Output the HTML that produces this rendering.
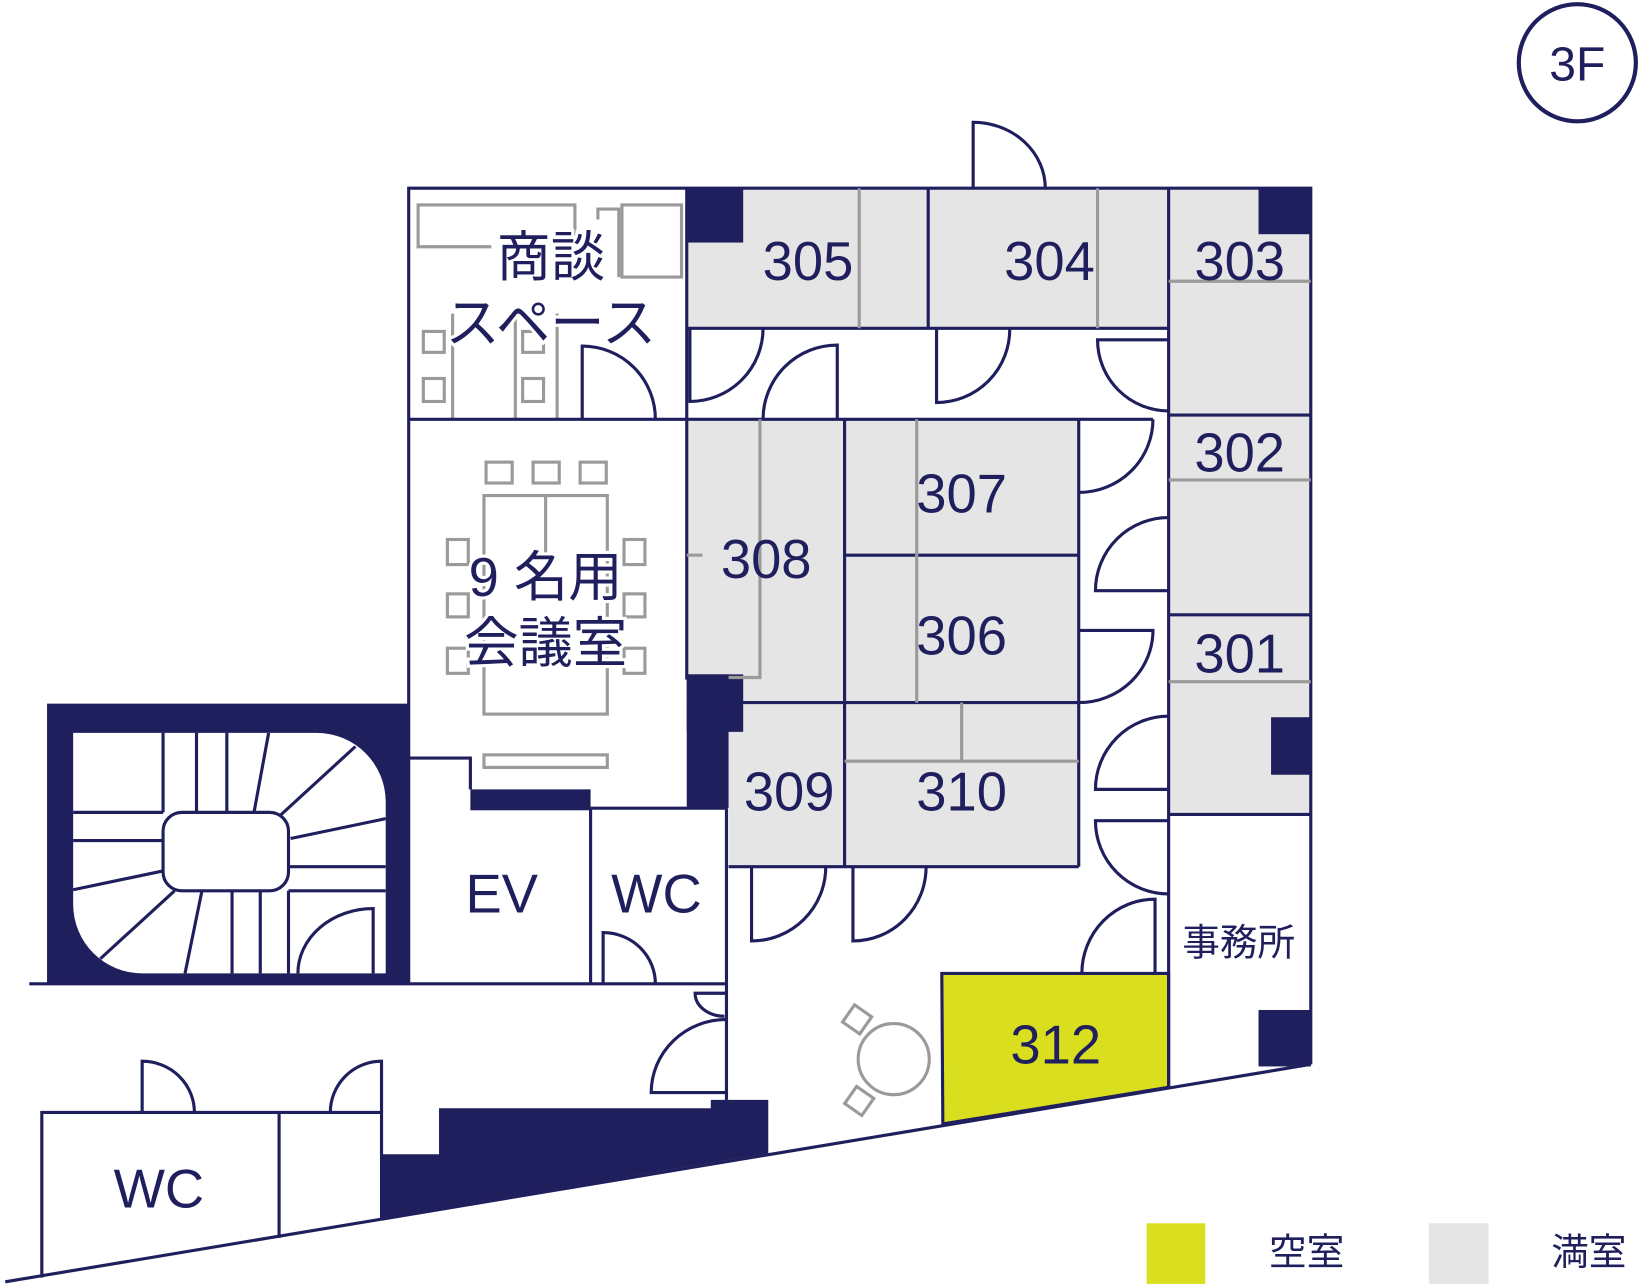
<!DOCTYPE html>
<html><head><meta charset="utf-8"><style>
html,body{margin:0;padding:0;background:#fff}
svg{display:block}
text{font-family:"Liberation Sans","Noto Sans CJK JP",sans-serif;fill:#201f5e;text-anchor:middle}
</style></head><body>
<svg width="1639" height="1286" viewBox="0 0 1568 1230" preserveAspectRatio="none" xmlns="http://www.w3.org/2000/svg">
<g fill="#e5e5e5">
<rect x="657" y="180" width="461" height="134"/>
<rect x="1118" y="180" width="136" height="599"/>
<rect x="657" y="401" width="375" height="271"/>
<rect x="697" y="672" width="335" height="157"/>
</g>
<polygon points="901,931 1118,931 1118,1040 902,1075" fill="#d9df1f" stroke="#201f5e" stroke-width="3"/>
<g fill="#201f5e">
<rect x="657" y="180" width="54" height="52"/>
<rect x="1204" y="180" width="50" height="44"/>
<rect x="1216" y="686" width="38" height="55"/>
<rect x="1204" y="966" width="50" height="54"/>
<rect x="657" y="645" width="40" height="128"/>
<rect x="657" y="645" width="54" height="55"/>
<rect x="450" y="755" width="115" height="20"/>
<polygon points="365,1104 420,1104 420,1060 680,1060 680,1052 735,1052 735,1103 365,1165"/>
<rect x="45" y="673" width="347" height="268"/>
</g>
<path d="M70,701 H303 A66,66 0 0 1 369,767 V931 H136 A66,66 0 0 1 70,865 Z" fill="#fff"/>
<g stroke="#201f5e" stroke-width="3" fill="none">
<rect x="156" y="777" width="120" height="75" rx="18" fill="#fff"/>
<line x1="156" y1="701" x2="156" y2="777"/><line x1="188" y1="701" x2="188" y2="777"/><line x1="217" y1="701" x2="217" y2="777"/>
<line x1="257" y1="701" x2="243" y2="777"/><line x1="340" y1="714" x2="268" y2="780"/><line x1="369" y1="783" x2="278" y2="802"/>
<line x1="276" y1="829" x2="369" y2="829"/><line x1="276" y1="852" x2="369" y2="852"/>
<line x1="70" y1="777" x2="156" y2="777"/><line x1="70" y1="804" x2="156" y2="804"/>
<line x1="70" y1="851" x2="156" y2="833"/><line x1="96" y1="917" x2="167" y2="852"/><line x1="177" y1="931" x2="193" y2="853"/>
<line x1="222" y1="852" x2="222" y2="931"/><line x1="249" y1="852" x2="249" y2="931"/><line x1="276" y1="852" x2="276" y2="931"/>
<path d="M357,931 V869 A72,62 0 0 0 285,931"/>
</g>
<g stroke="#9a9a9a" stroke-width="3" fill="none">
<path d="M550,236 V196 H400 V236 H470"/>
<rect x="595" y="196" width="57" height="69"/>
<path d="M572,210 V200 H592 V265"/>
<rect x="405" y="317" width="20" height="20"/><rect x="405" y="362" width="20" height="22"/>
<rect x="500" y="317" width="20" height="20"/><rect x="500" y="362" width="20" height="22"/>
<line x1="433" y1="300" x2="433" y2="401"/><line x1="493" y1="300" x2="493" y2="401"/><line x1="533" y1="300" x2="533" y2="401"/>
<rect x="465" y="442" width="25" height="20"/><rect x="510" y="442" width="25" height="20"/><rect x="555" y="442" width="25" height="20"/>
<rect x="463" y="474" width="118" height="209"/><line x1="522" y1="474" x2="522" y2="530"/>
<rect x="428" y="516" width="20" height="24"/><rect x="428" y="568" width="20" height="22"/><rect x="428" y="620" width="20" height="24"/>
<rect x="597" y="516" width="20" height="24"/><rect x="597" y="568" width="20" height="22"/><rect x="597" y="620" width="20" height="24"/>
<rect x="463" y="722" width="118" height="12"/>
<circle cx="855" cy="1013" r="34"/>
<rect x="810" y="965" width="20" height="20" transform="rotate(35 820 975)"/>
<rect x="812" y="1043" width="20" height="20" transform="rotate(35 822 1053)"/>
</g>
<g stroke="#201f5e" stroke-width="3" fill="none">
<path d="M391,941 V180 H1254 V1018"/>
<line x1="5" y1="1226" x2="1254" y2="1018"/>
<line x1="657" y1="180" x2="657" y2="650"/>
<line x1="657" y1="314" x2="1118" y2="314"/>
<line x1="888" y1="180" x2="888" y2="314"/>
<line x1="1118" y1="180" x2="1118" y2="1040"/>
<line x1="1118" y1="397" x2="1254" y2="397"/>
<line x1="1118" y1="588" x2="1254" y2="588"/>
<line x1="1118" y1="779" x2="1254" y2="779"/>
<line x1="391" y1="401" x2="1103" y2="401"/>
<line x1="808" y1="401" x2="808" y2="829"/>
<line x1="1032" y1="401" x2="1032" y2="829"/>
<line x1="808" y1="531" x2="1032" y2="531"/>
<line x1="697" y1="672" x2="1032" y2="672"/>
<line x1="697" y1="829" x2="1032" y2="829"/>
<line x1="695" y1="773" x2="695" y2="1052"/>
<line x1="565" y1="773" x2="695" y2="773"/>
<line x1="565" y1="773" x2="565" y2="941"/>
<path d="M391,725 H450 V755"/>
<line x1="28" y1="941" x2="695" y2="941"/>
<path d="M40,1222 V1064 H365 V1165"/>
<line x1="267" y1="1064" x2="267" y2="1184"/>
</g>
<g stroke="#9a9a9a" stroke-width="3" fill="none">
<line x1="822" y1="180" x2="822" y2="314"/>
<line x1="1050" y1="180" x2="1050" y2="314"/>
<line x1="1118" y1="269" x2="1254" y2="269"/>
<line x1="1118" y1="459" x2="1254" y2="459"/>
<line x1="1118" y1="652" x2="1254" y2="652"/>
<path d="M727,401 V648 H697"/>
<line x1="657" y1="531" x2="672" y2="531"/>
<line x1="877" y1="401" x2="877" y2="672"/>
<line x1="808" y1="728" x2="1032" y2="728"/>
<line x1="920" y1="672" x2="920" y2="728"/>
</g>
<g stroke="#201f5e" stroke-width="3" fill="none">
<path d="M931,180 V117 A69,63 0 0 1 1000,180"/>
<path d="M557,401 V331 A70,70 0 0 1 627,401"/>
<path d="M660,314 V384 A70,70 0 0 0 730,314"/>
<path d="M801,401 V330 A71,71 0 0 0 730,401"/>
<path d="M896,314 V385 A70,70 0 0 0 966,314"/>
<path d="M1118,325 H1050 A68,68 0 0 0 1118,393"/>
<path d="M1103,401 A71,70 0 0 1 1032,471"/>
<path d="M1118,495 A70,70 0 0 0 1048,565 H1118"/>
<path d="M1032,603 H1103 A71,69 0 0 1 1032,672"/>
<path d="M1118,685 A70,70 0 0 0 1048,755 H1118"/>
<path d="M1118,785 H1048 A70,70 0 0 0 1118,855"/>
<path d="M1105,931 V860 A70,71 0 0 0 1035,931"/>
<path d="M719,829 V900 A71,71 0 0 0 790,829"/>
<path d="M816,829 V900 A70,71 0 0 0 886,829"/>
<path d="M577,941 V892 A50,49 0 0 1 627,941"/>
<path d="M695,950 H665 A28,22 0 0 0 693,972"/>
<path d="M695,975 A72,70 0 0 0 623,1045 H695"/>
<path d="M136,1064 V1015 A50,49 0 0 1 186,1064"/>
<path d="M365,1064 V1015 A49,49 0 0 0 316,1064"/>
<circle cx="1509" cy="60" r="56" stroke-width="4"/>
</g>
<g font-size="52">
<text x="773" y="268">305</text><text x="1004" y="268">304</text><text x="1186" y="268">303</text>
<text x="1186" y="451">302</text><text x="1186" y="643">301</text>
<text x="920" y="490">307</text><text x="920" y="626">306</text><text x="733" y="553">308</text>
<text x="755" y="775">309</text><text x="920" y="775">310</text><text x="1010" y="1017">312</text>
<text x="480" y="873">EV</text><text x="628" y="873">WC</text><text x="152" y="1155">WC</text>
<text x="1509" y="77" font-size="46">3F</text>
</g>
<g font-size="52" style="paint-order:stroke" stroke="#fff" stroke-width="6">
<text x="527" y="264">商談</text><text x="527" y="327">スペース</text>
<text x="522" y="570">9 名用</text><text x="522" y="633">会議室</text>
</g>
<g font-size="36">
<text x="1185" y="914">事務所</text>
<text x="1250" y="1210">空室</text><text x="1520" y="1210">満室</text>
</g>
<rect x="1097" y="1170" width="56" height="58" fill="#d9df1f"/>
<rect x="1367" y="1170" width="57" height="58" fill="#e5e5e5"/>
</svg>
</body></html>
